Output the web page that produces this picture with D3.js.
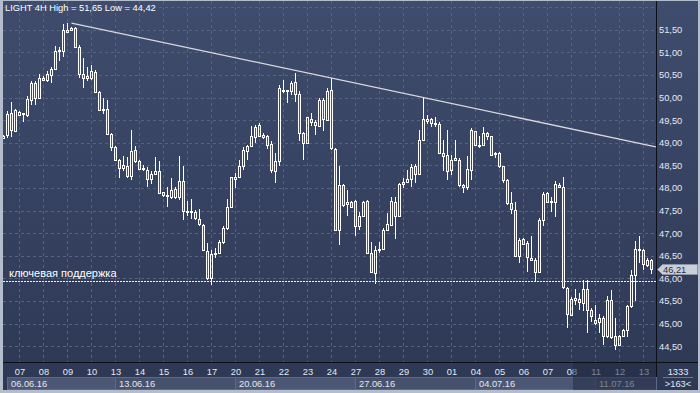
<!DOCTYPE html>
<html><head><meta charset="utf-8">
<script src="https://cdn.jsdelivr.net/npm/d3@7/dist/d3.min.js"></script>
<style>html,body{margin:0;padding:0;overflow:hidden;background:#aeb8c9}svg{display:block}</style>
</head><body><svg id="c" width="700" height="393"></svg>
<script>
// ---------------- data ----------------
const titleText = "LIGHT 4H High = 51,65 Low = 44,42";
const openV = [49.10,49.18,49.66,49.27,49.62,49.65,49.61,49.95,50.32,49.99,50.40,50.39,50.51,50.64,51.04,51.04,51.46,51.50,51.54,51.13,
50.52,50.44,50.43,50.56,50.12,49.73,49.75,49.19,48.90,48.62,48.44,48.48,48.26,48.85,48.60,48.44,48.40,48.20,48.31,48.38,
47.91,47.85,47.79,47.79,47.79,48.16,47.50,47.47,47.48,47.32,47.19,46.61,46.01,46.54,46.56,46.80,47.12,47.59,48.20,48.25,
48.49,48.81,48.92,49.36,49.14,49.12,49.16,48.97,48.37,48.59,50.14,50.16,50.14,50.34,50.08,49.21,48.99,49.52,49.40,49.38,
49.95,49.51,50.17,48.86,47.08,48.07,47.65,47.70,47.72,47.15,47.39,47.72,46.57,46.13,46.62,46.66,47.08,47.19,47.70,47.37,
48.09,48.14,48.20,48.48,48.31,49.07,49.49,49.52,49.42,49.42,48.77,48.72,48.40,48.62,48.62,48.07,48.03,48.40,49.25,48.92,
48.96,49.21,49.14,48.78,48.77,48.48,48.18,47.67,47.52,46.50,46.87,46.78,46.41,46.41,46.15,47.30,47.89,47.68,47.70,48.07,
48.02,45.79,45.20,45.53,45.54,45.45,45.76,45.31,45.07,45.03,45.12,44.72,45.53,44.72,44.53,44.72,44.85,45.38,46.08,46.62,
46.63,46.30,46.41];
const highV = [49.17,49.70,49.90,49.75,49.71,49.66,50.03,50.37,50.36,50.52,50.48,50.58,50.67,51.15,51.13,51.63,51.65,51.56,51.56,51.17,
50.87,50.67,50.73,50.62,50.15,49.99,49.95,49.21,48.92,48.64,48.70,48.68,49.29,48.92,48.62,48.50,48.46,48.38,48.68,48.60,
47.92,48.03,48.23,48.03,48.71,48.48,47.72,47.75,47.52,47.53,47.20,46.78,46.63,46.67,46.84,47.15,47.75,48.25,48.33,48.62,
48.90,48.95,49.38,49.40,49.44,49.21,49.18,49.03,48.77,50.28,50.39,50.17,50.36,50.54,50.14,49.23,49.58,49.66,49.51,49.99,
49.99,50.21,50.43,48.88,48.48,48.09,47.96,47.72,47.74,47.48,47.72,47.74,46.80,46.71,46.80,47.11,47.44,47.81,47.81,48.12,
48.22,48.40,48.54,48.54,49.29,49.99,49.62,49.55,49.58,49.47,49.07,49.29,48.74,49.07,48.66,48.09,48.70,49.33,49.27,49.14,
49.36,49.23,49.16,48.79,48.79,48.49,48.20,47.92,47.68,46.89,46.89,46.82,46.93,46.45,47.33,47.92,47.92,47.81,48.15,48.11,
48.24,45.81,45.59,45.76,45.67,45.96,45.96,45.34,45.42,45.22,45.16,45.62,45.75,45.12,44.75,44.88,45.42,46.19,46.82,46.94,
46.65,46.45,46.42];
const lowV = [49.08,49.10,49.12,49.24,49.60,49.46,49.58,49.84,49.84,49.98,50.36,50.34,50.32,50.62,50.80,50.89,51.43,51.47,51.10,50.43,
50.22,50.36,50.39,50.10,49.71,49.63,49.18,48.81,48.60,48.22,48.37,48.22,48.18,48.55,48.40,48.37,48.03,48.09,48.29,47.87,
47.79,47.57,47.76,47.76,47.74,47.30,47.37,47.32,47.30,47.17,46.61,45.97,45.86,46.45,46.54,46.76,47.08,47.56,48.00,48.23,
48.40,48.62,48.90,48.99,49.13,49.08,48.86,48.33,48.12,48.49,50.10,49.88,50.06,49.91,49.04,48.61,48.97,49.38,49.18,49.36,
49.25,49.50,48.85,47.06,46.74,47.59,47.37,47.55,46.93,47.06,47.37,46.53,46.14,45.88,46.57,46.63,47.04,47.15,46.87,47.35,
48.01,48.10,48.02,48.12,48.29,49.05,49.42,49.36,49.36,48.76,48.37,48.18,48.29,48.61,48.03,47.90,47.96,48.18,48.92,48.88,
48.93,49.07,48.70,48.66,48.44,48.11,47.63,47.43,46.49,46.34,46.74,46.15,46.38,45.93,46.13,47.16,47.68,47.48,47.36,48.00,
45.76,44.90,45.16,45.42,45.29,45.27,44.79,45.03,44.97,44.79,44.53,44.68,44.66,44.42,44.51,44.70,44.70,45.34,45.49,46.34,
46.19,46.26,46.10];
const closeV = [49.14,49.64,49.29,49.73,49.68,49.63,49.97,50.32,49.99,50.43,50.43,50.52,50.64,51.04,51.06,51.50,51.50,51.53,51.13,50.52,
50.43,50.47,50.59,50.12,49.73,49.75,49.19,48.90,48.62,48.44,48.51,48.26,48.82,48.59,48.43,48.41,48.20,48.31,48.37,47.89,
47.85,47.82,47.96,47.98,48.16,47.50,47.47,47.50,47.33,47.20,46.63,46.01,46.54,46.56,46.80,47.12,47.59,48.24,48.25,48.49,
48.85,48.93,49.16,49.13,49.40,49.18,48.96,48.40,48.59,50.21,50.16,50.14,50.32,50.08,49.21,48.99,49.56,49.45,49.45,49.94,
49.52,50.14,48.88,47.08,48.07,47.63,47.70,47.59,47.15,47.39,47.70,46.56,46.15,46.62,46.65,47.08,47.21,47.72,47.39,48.09,
48.14,48.20,48.46,48.31,49.07,49.52,49.52,49.44,49.44,48.77,48.70,48.37,48.62,48.66,48.07,48.02,48.42,49.29,48.96,48.96,
49.21,49.14,48.74,48.76,48.48,48.18,47.67,47.53,46.50,46.85,46.77,46.47,46.45,46.15,47.30,47.87,47.70,47.72,48.09,48.02,
45.81,45.22,45.54,45.56,45.47,45.76,45.31,45.16,45.01,45.12,44.73,45.53,44.70,44.53,44.73,44.86,45.39,46.08,46.65,46.65,
46.32,46.41,46.21];
const dayLabels = ["07","08","09","10","13","14","15","16","17","20","21","22","23","24","27","28","29","30","01","04","05","06","07","08","11","12","13"];
const firstDayBar = 4, barsPerDay = 6;
const weekLabels = ["06.06.16","13.06.16","20.06.16","27.06.16","04.07.16","11.07.16"];
const weekStartDay = [-1,4,9,14,19,24];
const priceTicks = [44.5,45,45.5,46,46.5,47,47.5,48,48.5,49,49.5,50,50.5,51,51.5];
const gridPrices = [44.5,45,45.5,46,46.5,47,47.5,48,48.5,49,49.5,50,50.5,51,51.5,52];
const supportLevel = 45.94;
const supportLabel = "ключевая поддержка";
const trendBars = [17, 163.1], trendPrices = [51.65, 48.91];
const lastPrice = 46.21;
const totalBarsText = "1333", visibleBarsText = ">163<";

// ---------------- layout ----------------
const W = 700, H = 393;
const L = 3, R = 656, T = 1, B = 362;
const svg = d3.select("#c");
const font = "'Liberation Sans', Arial, sans-serif";
const defs = svg.append("defs");
const grad = defs.append("linearGradient").attr("id","bg").attr("x1",0).attr("y1",0).attr("x2",0).attr("y2",1);
grad.append("stop").attr("offset","0%").attr("stop-color","#3f4c6d");
grad.append("stop").attr("offset","100%").attr("stop-color","#2d3854");
defs.append("clipPath").attr("id","plotclip").append("rect").attr("x",L).attr("y",T).attr("width",R-L).attr("height",B-T);

svg.append("rect").attr("width",W).attr("height",H).attr("fill","#b4bdcc");
svg.append("rect").attr("x",3).attr("y",1).attr("width",695).attr("height",389).attr("fill","url(#bg)");

const x = d3.scaleLinear().domain([0,162]).range([3.5,651.5]);
const y = d3.scaleLinear().domain([44.5,51.5]).range([346.2,29.8]);
const fmt = v => d3.format(".2f")(v).replace(".",",");

// grid
const g = svg.append("g").attr("clip-path","url(#plotclip)");
g.selectAll("line.hg").data(gridPrices).join("line")
  .attr("x1",L).attr("x2",R).attr("y1",d=>Math.round(y(d))+0.5).attr("y2",d=>Math.round(y(d))+0.5)
  .attr("stroke","#56637f").attr("stroke-dasharray","3,3");
const dayIdx = dayLabels.map((d,k)=>firstDayBar + k*barsPerDay);
g.selectAll("line.vg").data(dayIdx).join("line")
  .attr("x1",d=>Math.floor(x(d))+0.5).attr("x2",d=>Math.floor(x(d))+0.5).attr("y1",T).attr("y2",B)
  .attr("stroke","#56637f").attr("stroke-dasharray","3,3");

// candles
const bars = openV.map((o,i)=>({i,o,h:highV[i],l:lowV[i],c:closeV[i]}));
const cg = g.append("g");
bars.forEach(b=>{
  const xc = Math.floor(x(b.i))+0.5;
  const top = Math.round(y(Math.max(b.o,b.c))), bot = Math.round(y(Math.min(b.o,b.c)));
  const hy = Math.round(y(b.h)), ly = Math.round(y(b.l));
  if (hy < top) cg.append("line").attr("x1",xc).attr("x2",xc).attr("y1",hy).attr("y2",top).attr("stroke","#fff");
  if (ly > bot) cg.append("line").attr("x1",xc).attr("x2",xc).attr("y1",bot).attr("y2",ly).attr("stroke","#fff");
  const hgt = Math.max(bot-top,1);
  cg.append("rect").attr("x",xc-1).attr("y",top+0.5).attr("width",2).attr("height",hgt)
    .attr("fill", b.c < b.o ? "#e5153d" : "none").attr("stroke","#fff").attr("stroke-width",1);
});

// support line
const sy = Math.round(y(supportLevel))+0.5;
g.append("line").attr("x1",L).attr("x2",R).attr("y1",sy).attr("y2",sy)
  .attr("stroke","#f2f2f2").attr("stroke-dasharray","2,1");
svg.append("text").attr("x",9).attr("y",sy-5).attr("font-family",font).attr("font-size","11px")
  .attr("fill","#ffffff").text(supportLabel);

// trend line
g.append("line").attr("x1",x(trendBars[0])).attr("y1",y(trendPrices[0]))
  .attr("x2",x(trendBars[1])).attr("y2",y(trendPrices[1]))
  .attr("stroke","#d9d9df").attr("stroke-width",1.3);

// title
svg.append("text").attr("x",5).attr("y",11).attr("font-family",font).attr("font-size","9.3px")
  .attr("fill","#ffffff").text(titleText);

// frame lines
svg.append("line").attr("x1",656.5).attr("x2",656.5).attr("y1",1).attr("y2",390).attr("stroke","#0d0f16");
svg.append("line").attr("x1",3).attr("x2",698).attr("y1",362.5).attr("y2",362.5).attr("stroke","#0d0f16");

// right axis labels
svg.selectAll("text.py").data(priceTicks).join("text")
  .attr("x",659).attr("y",d=>y(d)+3.3).attr("font-family",font).attr("font-size","9.3px")
  .attr("fill","#e4e9f2").text(d=>fmt(d));

// last price label
const ly0 = Math.round(y(lastPrice));
svg.append("path").attr("d",`M657.5,${ly0+0.5} L662.5,${ly0-4.5} L697.5,${ly0-4.5} L697.5,${ly0+5.5} L662.5,${ly0+5.5} Z`)
  .attr("fill","#c9ced8").attr("stroke","#8b94a6");
svg.append("text").attr("x",663).attr("y",ly0+4).attr("font-family",font).attr("font-size","9.3px")
  .attr("fill","#2b303c").text(fmt(lastPrice));

// week boxes
const boxStart = k => weekStartDay[k] < 0 ? 7 : Math.floor(x(firstDayBar + weekStartDay[k]*barsPerDay));
weekLabels.forEach((w,k)=>{
  const x0 = boxStart(k), x1 = k < weekLabels.length-1 ? boxStart(k+1) : 656;
  svg.append("rect").attr("x",x0+0.5).attr("y",377.5).attr("width",x1-x0).attr("height",12)
    .attr("fill", k%2===0 ? "#4b5774" : "#45516d").attr("stroke","#5d6985");
  svg.append("text").attr("x",x0+4).attr("y",387).attr("font-family",font).attr("font-size","9.3px")
    .attr("fill","#e4e9f2").text(w);
});

// day labels
svg.selectAll("text.dl").data(dayLabels).join("text")
  .attr("x",(d,k)=>Math.floor(x(dayIdx[k]))+1).attr("y",374.5).attr("text-anchor","middle")
  .attr("font-family",font).attr("font-size","9.3px").attr("fill","#e4e9f2").text(d=>d);

// dimmed current area
svg.append("rect").attr("x",573).attr("y",363).attr("width",83).attr("height",27)
  .attr("fill","#232c44").attr("opacity",0.55);

// bottom-right counters
svg.append("line").attr("x1",663).attr("x2",693).attr("y1",377.5).attr("y2",377.5).attr("stroke","#6b7691");
svg.append("text").attr("x",678).attr("y",374.5).attr("text-anchor","middle").attr("font-family",font)
  .attr("font-size","9.3px").attr("fill","#e4e9f2").text(totalBarsText);
svg.append("text").attr("x",678).attr("y",387).attr("text-anchor","middle").attr("font-family",font)
  .attr("font-size","9.3px").attr("fill","#e4e9f2").text(visibleBarsText);
</script></body></html>
